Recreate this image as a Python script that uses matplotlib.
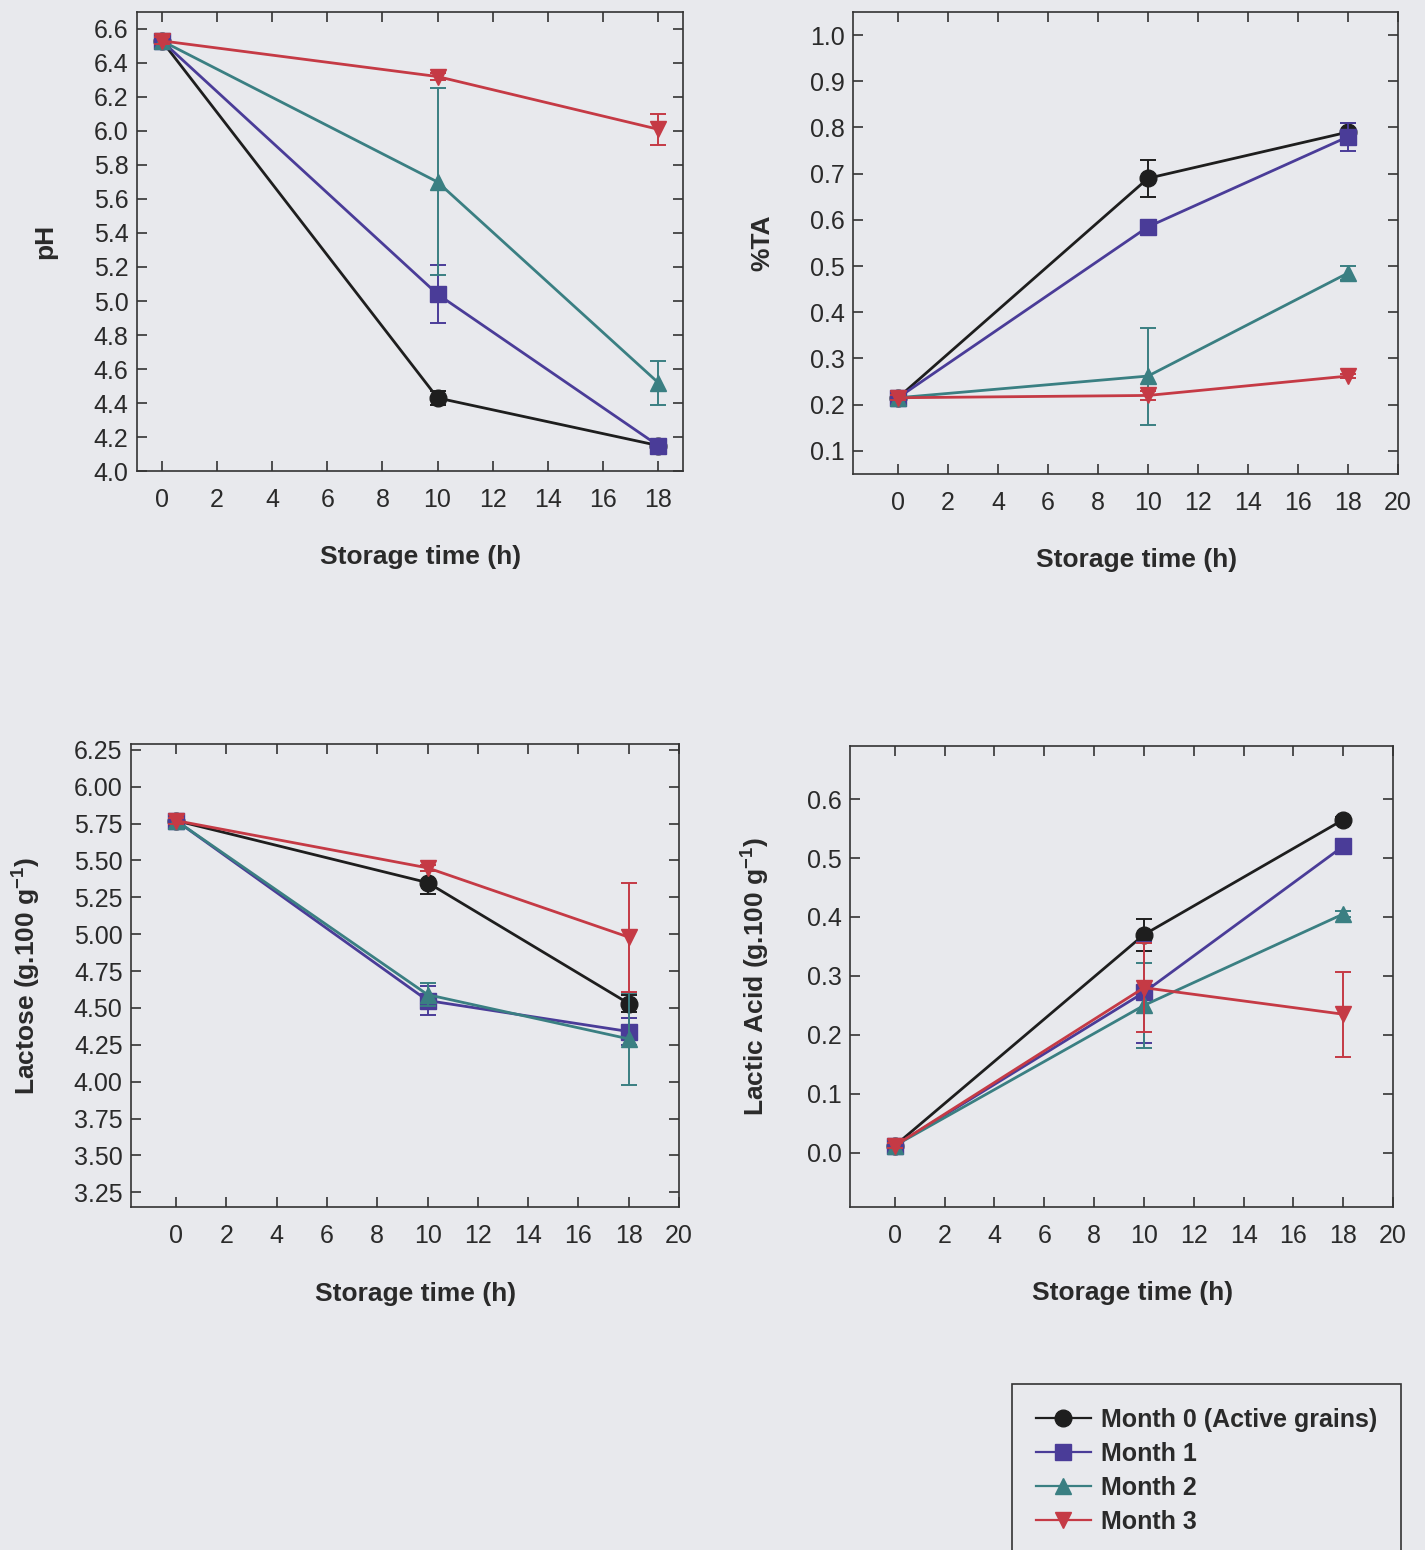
import matplotlib
matplotlib.use("Agg")
import matplotlib.pyplot as plt
from matplotlib.lines import Line2D

plt.rcParams['font.family'] = ['Liberation Sans', 'DejaVu Sans']
plt.rcParams['mathtext.fontset'] = 'custom'
plt.rcParams['mathtext.rm'] = 'Liberation Sans'
plt.rcParams['mathtext.bf'] = 'Liberation Sans:bold'

# storage time (h)
time = [0, 10, 18]

series = ['Month 0 (Active grains)', 'Month 1', 'Month 2', 'Month 3']
colors = ['#1e1e1e', '#4a3c98', '#3a7f82', '#c53a45']
markers = ['o', 's', '^', 'v']

# pH
ph = [[6.53, 4.43, 4.15],
      [6.53, 5.04, 4.15],
      [6.53, 5.70, 4.52],
      [6.53, 6.32, 6.01]]
ph_err = [[0.02, 0.04, 0.02],
          [0.02, 0.17, 0.02],
          [0.02, 0.55, 0.13],
          [0.02, 0.02, 0.09]]

# titratable acidity
ta = [[0.215, 0.690, 0.790],
      [0.215, 0.585, 0.780],
      [0.215, 0.262, 0.485],
      [0.215, 0.220, 0.262]]
ta_err = [[0.005, 0.040, 0.020],
          [0.005, 0.010, 0.030],
          [0.005, 0.105, 0.015],
          [0.005, 0.010, 0.005]]

# lactose
lactose = [[5.77, 5.35, 4.53],
           [5.77, 4.55, 4.34],
           [5.77, 4.59, 4.29],
           [5.77, 5.45, 4.98]]
lactose_err = [[0.02, 0.08, 0.06],
               [0.02, 0.10, 0.09],
               [0.02, 0.08, 0.31],
               [0.02, 0.02, 0.37]]

# lactic acid
lactic = [[0.012, 0.370, 0.565],
          [0.012, 0.272, 0.520],
          [0.012, 0.250, 0.405],
          [0.012, 0.280, 0.235]]
lactic_err = [[0.004, 0.027, 0.005],
              [0.004, 0.085, 0.005],
              [0.004, 0.072, 0.005],
              [0.004, 0.075, 0.072]]

bg = '#e8e9ed'
txt = '#2a2a2a'

fig = plt.figure(figsize=(14.25, 15.5), dpi=100, facecolor=bg)

panels = [
    # data, err, rect, xlim, ylim, yticks, fmt, ylabel, xticks, ylabel x
    (ph, ph_err, [0.0961, 0.6961, 0.3832, 0.2962], (-0.9, 18.9), (4.0, 6.7),
     [4.0 + 0.2 * i for i in range(14)], '%.1f', 'pH', range(0, 19, 2), -0.168),
    (ta, ta_err, [0.5986, 0.6942, 0.3825, 0.2981], (-1.8, 20), (0.05, 1.05),
     [0.1 * i for i in range(1, 11)], '%.1f', '%TA', range(0, 21, 2), -0.167),
    (lactose, lactose_err, [0.0919, 0.2213, 0.3846, 0.2987], (-1.8, 20), (3.15, 6.29),
     [3.25 + 0.25 * i for i in range(13)], '%.2f', r'Lactose (g.100 g$^{\mathbf{-1}}$)',
     range(0, 21, 2), -0.193),
    (lactic, lactic_err, [0.5965, 0.2213, 0.3811, 0.2974], (-1.8, 20), (-0.092, 0.69),
     [0.1 * i for i in range(7)], '%.1f', r'Lactic Acid (g.100 g$^{\mathbf{-1}}$)',
     range(0, 21, 2), -0.175),
]

for data, err, rect, xlim, ylim, yticks, fmt, ylabel, xticks, ylx in panels:
    ax = fig.add_axes(rect)
    ax.set_facecolor(bg)
    for i in range(4):
        ax.errorbar(time, data[i], yerr=err[i], color=colors[i], marker=markers[i],
                    markersize=12, lw=2.0, elinewidth=1.4, capsize=6, capthick=1.4,
                    zorder=2 + i)
    ax.set_xlim(xlim)
    ax.set_ylim(ylim)
    ax.set_xticks(list(xticks))
    ax.set_yticks(yticks)
    ax.yaxis.set_major_formatter(matplotlib.ticker.FormatStrFormatter(fmt))
    ax.tick_params(direction='in', top=True, right=True, length=7, width=1.2,
                   colors='#333333', labelcolor=txt, labelsize=18)
    ax.tick_params(axis='x', pad=12)
    ax.tick_params(axis='y', pad=6)
    for s in ax.spines.values():
        s.set_color('#333333')
        s.set_linewidth(1.2)
    ax.set_xlabel('Storage time (h)', fontsize=19, fontweight='bold', color=txt, va='center')
    ax.xaxis.set_label_coords(0.52, -0.187)
    ax.set_ylabel(ylabel, fontsize=19, fontweight='bold', color=txt, va='center')
    ax.yaxis.set_label_coords(ylx, 0.5)

handles = [Line2D([], [], color=colors[i], marker=markers[i], markersize=12, lw=1.6)
           for i in range(4)]
leg = fig.legend(handles, series, loc='upper left', bbox_to_anchor=(1012 / 1425, 1 - 1384 / 1550),
                 prop={'weight': 'bold', 'size': 18}, frameon=True, fancybox=False,
                 edgecolor='#333333', facecolor=bg, framealpha=1, borderaxespad=0,
                 borderpad=0.95, handlelength=2.2, handletextpad=0.4, labelspacing=0.4)
leg.get_frame().set_linewidth(1.2)
for t in leg.get_texts():
    t.set_color(txt)

fig.savefig('out.png', dpi=100, facecolor=bg)
